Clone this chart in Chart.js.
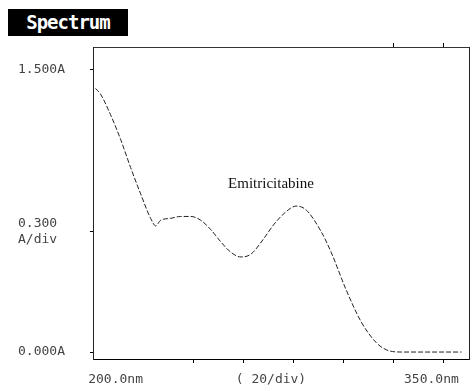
<!DOCTYPE html>
<html>
<head>
<meta charset="utf-8">
<script src="https://cdn.jsdelivr.net/npm/chart.js@4"></script>
<style>
  body { margin: 0; background: #fff; }
  #marco { position: relative; width: 474px; height: 391px; }
  #titulo { position: absolute; left: 8px; top: 9px; width: 120px; height: 27px; background: #000; color: #fff;
            font: bold 19px "DejaVu Sans Mono", monospace; line-height: 27px; text-align: center; letter-spacing: -1px; }
  canvas { position: absolute; left: 0; top: 0; }
</style>
</head>
<body>
<div id="marco">
  <canvas id="grafica" width="474" height="391"></canvas>
  <div id="titulo">Spectrum</div>
</div>
<script>
// espectro UV (nm, absorbancia)
const longitudes = [201, 203, 207, 211, 215, 219, 223, 225, 227, 231, 235, 239, 243, 247, 251, 255, 259, 263, 268, 272, 277, 281, 285, 291, 295, 301, 307, 313, 317, 323, 335, 347];
const absorbancia = [1.40, 1.37, 1.26, 1.13, 0.98, 0.84, 0.71, 0.67, 0.70, 0.71, 0.72, 0.72, 0.70, 0.65, 0.585, 0.53, 0.505, 0.52, 0.60, 0.675, 0.745, 0.775, 0.755, 0.64, 0.53, 0.33, 0.16, 0.05, 0.012, 0, 0, 0];

const marcasX = [240, 260, 280, 300, 320, 340];
const marcasArriba = [320, 340];
const etiquetasX = ['200.0nm', '( 20/div)', '350.0nm'];
const posEtiquetasX = [209, 271, 335];
const valoresY = [1.5, 0.64, 0];
const etiquetasY = [['1.500A'], ['0.300', 'A/div'], ['0.000A']];

const fuenteMono = { family: '"DejaVu Sans Mono", monospace', size: 13 };

const textoMuestra = {
  id: 'textoMuestra',
  afterDatasetsDraw(chart) {
    const { ctx, scales: { x, y } } = chart;
    ctx.save();
    ctx.font = '15px "Liberation Serif", serif';
    ctx.fillStyle = '#111';
    ctx.textAlign = 'center';
    ctx.textBaseline = 'middle';
    ctx.fillText('Emitricitabine', x.getPixelForValue(271), y.getPixelForValue(0.89));
    ctx.restore();
  }
};

const ctx = document.getElementById('grafica').getContext('2d');
new Chart(ctx, {
  type: 'line',
  data: {
    datasets: [{
      data: longitudes.map((nm, i) => ({ x: nm, y: absorbancia[i] })),
      borderColor: '#222',
      borderWidth: 1,
      borderDash: [5, 2],
      pointRadius: 0,
      tension: 0.4,
      cubicInterpolationMode: 'monotone'
    }]
  },
  options: {
    responsive: false,
    animation: false,
    layout: { padding: { left: 18, right: 0, top: 0, bottom: 0 } },
    plugins: { legend: { display: false }, tooltip: { enabled: false } },
    scales: {
      x: {
        type: 'linear', position: 'bottom', min: 200, max: 350,
        afterBuildTicks: s => { s.ticks = marcasX.map(v => ({ value: v })); },
        afterFit: s => { s.height = 4; },
        ticks: { display: false },
        grid: { drawOnChartArea: false, tickLength: 4, color: '#000' },
        border: { color: '#000', width: 1, dash: [12, 2] }
      },
      xl: {
        type: 'linear', position: 'bottom', min: 200, max: 350,
        afterBuildTicks: s => { s.ticks = posEtiquetasX.map(v => ({ value: v })); },
        afterFit: s => { s.height = 28; },
        ticks: { autoSkip: false, maxRotation: 0, padding: 1, color: '#444', font: fuenteMono,
                 callback: (v, i) => etiquetasX[i] },
        grid: { display: false },
        border: { display: false }
      },
      xt: {
        type: 'linear', position: 'top', min: 200, max: 350,
        afterBuildTicks: s => { s.ticks = marcasArriba.map(v => ({ value: v })); },
        afterFit: s => { s.height = 47; },
        ticks: { display: false },
        grid: { drawOnChartArea: false, tickLength: 4, color: '#000' },
        border: { color: '#333', width: 1, dash: [6, 2] }
      },
      y: {
        min: -0.037, max: 1.62,
        afterBuildTicks: s => { s.ticks = valoresY.map(v => ({ value: v })); },
        afterFit: s => { s.width = 75; },
        ticks: { crossAlign: 'far', padding: 4, color: '#444', font: fuenteMono,
                 callback: (v, i) => etiquetasY[i] },
        grid: { drawOnChartArea: false, tickLength: 3, color: '#000' },
        border: { color: '#222', width: 1, dash: [3, 2] }
      },
      yr: {
        position: 'right', min: -0.037, max: 1.62,
        afterFit: s => { s.width = 5; },
        ticks: { display: false },
        grid: { display: false },
        border: { color: '#222', width: 1, dash: [4, 3] }
      }
    }
  },
  plugins: [textoMuestra]
});
</script>
</body>
</html>
